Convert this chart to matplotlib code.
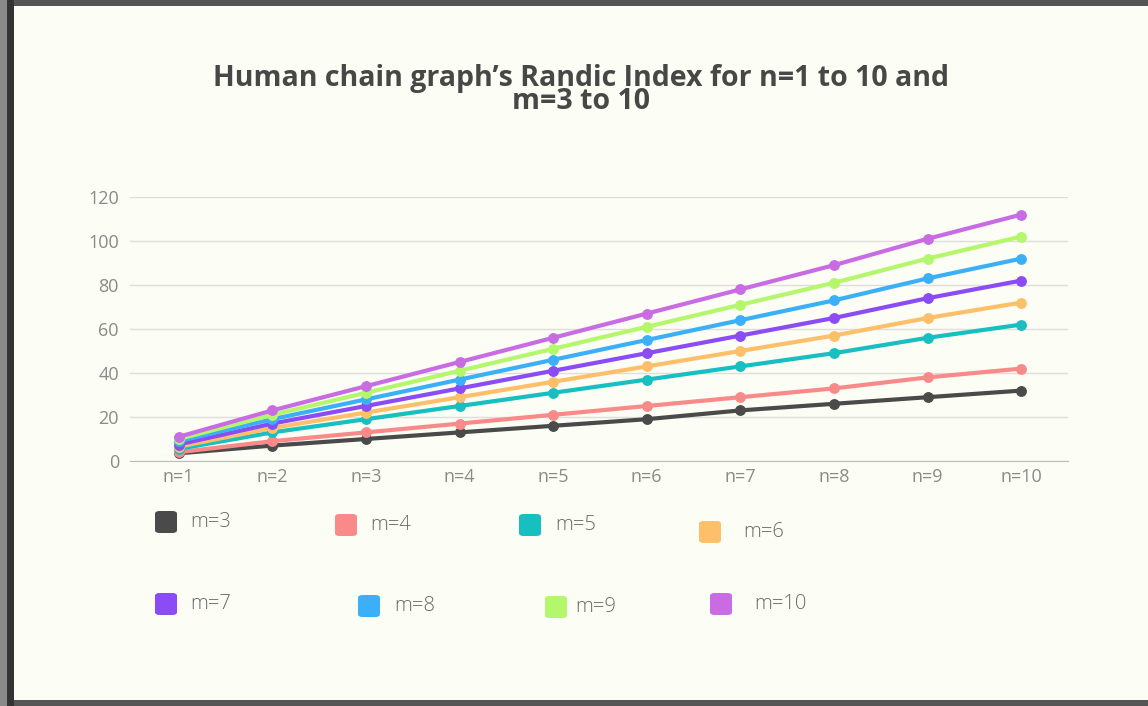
import matplotlib.pyplot as plt
from matplotlib.patches import FancyBboxPatch, Rectangle

plt.rcParams['font.family'] = ['Open Sans', 'DejaVu Sans']

n_labels = ['n=1', 'n=2', 'n=3', 'n=4', 'n=5', 'n=6', 'n=7', 'n=8', 'n=9', 'n=10']
series_names = ['m=3', 'm=4', 'm=5', 'm=6', 'm=7', 'm=8', 'm=9', 'm=10']
m3 = [3.5, 7, 10, 13, 16, 19, 23, 26, 29, 32]
m4 = [4, 9, 13, 17, 21, 25, 29, 33, 38, 42]
m5 = [5.5, 13, 19, 25, 31, 37, 43, 49, 56, 62]
m6 = [6.5, 15, 22, 29, 36, 43, 50, 57, 65, 72]
m7 = [7.5, 17, 25, 33, 41, 49, 57, 65, 74, 82]
m8 = [9, 19, 28, 37, 46, 55, 64, 73, 83, 92]
m9 = [10, 21, 31, 41, 51, 61, 71, 81, 92, 102]
m10 = [11, 23, 34, 45, 56, 67, 78, 89, 101, 112]
series = [m3, m4, m5, m6, m7, m8, m9, m10]
colors = ['#4a4a4a', '#f98a8a', '#18bfc0', '#fdbf6a', '#8b4cf5', '#3bb0f9', '#b4f66c', '#c96ce4']

bg = '#fcfdf4'
W, H = 1148, 706
fig = plt.figure(figsize=(11.48, 7.06), dpi=100, facecolor=bg)
ax = fig.add_axes([130 / W, 1 - 461 / H, (1068 - 130) / W, (461 - 197) / H])
ax.set_facecolor(bg)

x = list(range(len(n_labels)))
for vals, c in zip(series, colors):
    ax.plot(x, vals, color=c, linewidth=3, marker='o', markersize=6.8,
            solid_capstyle='round', zorder=3)

ax.set_xlim(-0.52, 9.5)
ax.set_ylim(0, 120)
ax.set_yticks(range(0, 121, 20))
ax.set_xticks(x)
ax.set_xticklabels(n_labels)
ax.grid(axis='y', color='#dedede', linewidth=1)
ax.set_axisbelow(True)
for s in ['top', 'right', 'left']:
    ax.spines[s].set_visible(False)
ax.spines['bottom'].set_color('#bdbdbd')
ax.tick_params(axis='both', length=0, colors='#8a8a8a', labelsize=13)
ax.tick_params(axis='y', pad=8)
ax.tick_params(axis='x', pad=5)

# title (two tightly spaced lines)
fig.text(581 / W, 1 - 90 / H, "Human chain graph’s Randic Index for n=1 to 10 and\nm=3 to 10",
         ha='center', va='center', multialignment='center', fontsize=20.5,
         fontweight='bold', color='#474747', linespacing=0.73)

# legend swatches, two staggered rows
legend_pos = [(166, 522), (346, 525), (530, 525), (710, 532),
              (166, 604), (369, 606), (556, 607), (721, 604)]
text_dx = [24, 24, 25, 33, 24, 25, 19, 33]
for (px, py), name, c, dx in zip(legend_pos, series_names, colors, text_dx):
    sq = FancyBboxPatch(((px - 11) / W, 1 - (py + 11) / H), 22 / W, 22 / H,
                        boxstyle='round,pad=0,rounding_size=0.004',
                        transform=fig.transFigure, facecolor=c, edgecolor='none')
    fig.patches.append(sq)
    fig.text((px + dx) / W, 1 - py / H, name, ha='left', va='center',
             fontsize=14.5, color='#6a6a6a', fontweight='light')

# window frame
fig.patches.append(Rectangle((0, 1 - 6 / H), 1, 6 / H, transform=fig.transFigure,
                             facecolor='#555555', edgecolor='none'))
fig.patches.append(Rectangle((0, 0), 1, 6 / H, transform=fig.transFigure,
                             facecolor='#555555', edgecolor='none'))
fig.patches.append(Rectangle((0, 0), 7 / W, 1, transform=fig.transFigure,
                             facecolor='#8a8a8a', edgecolor='none'))
fig.patches.append(Rectangle((7 / W, 0), 7 / W, 1, transform=fig.transFigure,
                             facecolor='#333333', edgecolor='none'))

fig.savefig('out.png', dpi=100, facecolor=bg)
